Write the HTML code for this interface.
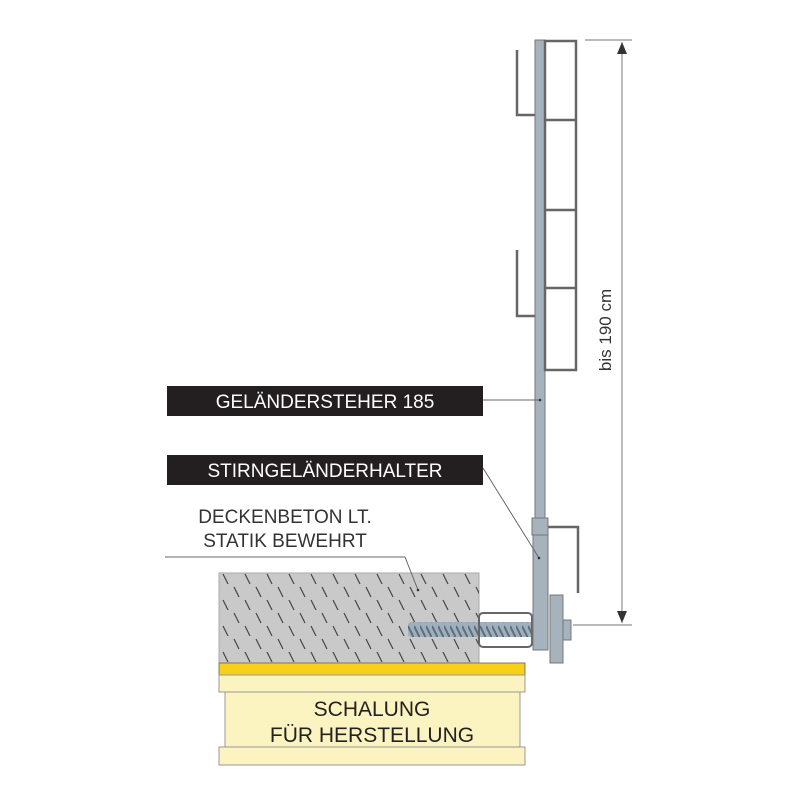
<!DOCTYPE html>
<html><head><style>body{margin:0;background:#fff}svg{display:block}</style></head><body>
<svg width="800" height="800" viewBox="0 0 800 800" xmlns="http://www.w3.org/2000/svg" font-family="'Liberation Sans',sans-serif">
<defs>
<pattern id="h" width="22" height="26" patternUnits="userSpaceOnUse">
<line x1="3" y1="2" x2="8" y2="12" stroke="#444" stroke-width="1.2"/>
<line x1="14" y1="15" x2="19" y2="25" stroke="#444" stroke-width="1.2"/>
</pattern>
<pattern id="s" width="6" height="16" patternUnits="userSpaceOnUse">
<rect width="6" height="16" fill="#9fb0bd"/>
<path d="M0 2 L6 14" stroke="#5f6e7a" stroke-width="2"/>
</pattern>
</defs>
<rect x="219" y="573" width="260" height="90" fill="#c9c9c9" stroke="#aaa"/>
<rect x="219" y="573" width="260" height="90" fill="url(#h)"/>
<rect x="219" y="663" width="306" height="12" fill="#f7d117" stroke="#777"/>
<rect x="219" y="675" width="306" height="17" fill="#fbf3c0" stroke="#999"/>
<rect x="225" y="692" width="295" height="55" fill="#fbf3c0" stroke="#999"/>
<rect x="219" y="747" width="306" height="18" fill="#fbf3c0" stroke="#999"/>
<text x="372" y="716" font-size="21" text-anchor="middle" fill="#222">SCHALUNG</text>
<text x="372" y="742" font-size="21" text-anchor="middle" fill="#222">FÜR HERSTELLUNG</text>
<rect x="408" y="622" width="140" height="15" fill="url(#s)" rx="3"/>
<rect x="479" y="613" width="53" height="34" rx="4" fill="none" stroke="#666" stroke-width="2"/>
<rect x="535" y="40" width="10" height="480" fill="#a6b3bd" stroke="#777"/>
<g fill="none" stroke="#666" stroke-width="2.5">
<rect x="545" y="41" width="31" height="329"/>
<line x1="545" y1="120" x2="576" y2="120"/>
<line x1="545" y1="210" x2="576" y2="210"/>
<line x1="545" y1="288" x2="576" y2="288"/>
<polyline points="517,50 517,115 535,115"/>
<polyline points="517,250 517,316 535,316"/>
<polyline points="548,527 578,527 578,593"/>
</g>
<rect x="532" y="518" width="16" height="17" fill="#a6b3bd" stroke="#777"/>
<rect x="533" y="535" width="15" height="115" fill="#a6b3bd" stroke="#777"/>
<rect x="550" y="595" width="13" height="68" fill="#a6b3bd" stroke="#777"/>
<rect x="563" y="620" width="8" height="20" fill="#a6b3bd" stroke="#777"/>
<g stroke="#777" stroke-width="1">
<line x1="585" y1="40" x2="632" y2="40"/>
<line x1="573" y1="625" x2="632" y2="625"/>
<line x1="622" y1="42" x2="622" y2="623"/>
</g>
<path d="M622 42 L617 54 L627 54Z M622 623 L617 611 L627 611Z" fill="#333"/>
<text transform="translate(611,330) rotate(-90)" font-size="17" text-anchor="middle" fill="#333">bis 190 cm</text>
<rect x="167" y="386" width="316" height="30" fill="#231f20"/>
<text x="325" y="408" font-size="19" text-anchor="middle" fill="#fff">GELÄNDERSTEHER 185</text>
<rect x="167" y="455" width="316" height="30" fill="#231f20"/>
<text x="325" y="477" font-size="19" text-anchor="middle" fill="#fff">STIRNGELÄNDERHALTER</text>
<g stroke="#666" stroke-width="1" fill="none">
<line x1="483" y1="400" x2="540" y2="400"/>
<line x1="483" y1="468" x2="539" y2="558"/>
<polyline points="165,557 405,557 418,590"/>
</g>
<circle cx="540" cy="400" r="1.3" fill="#333"/>
<circle cx="539" cy="558" r="1.3" fill="#333"/>
<circle cx="418" cy="590" r="1.3" fill="#333"/>
<text x="285" y="523" font-size="19" text-anchor="middle" fill="#333">DECKENBETON LT.</text>
<text x="285" y="547" font-size="19" text-anchor="middle" fill="#333">STATIK BEWEHRT</text>
</svg>
</body></html>
